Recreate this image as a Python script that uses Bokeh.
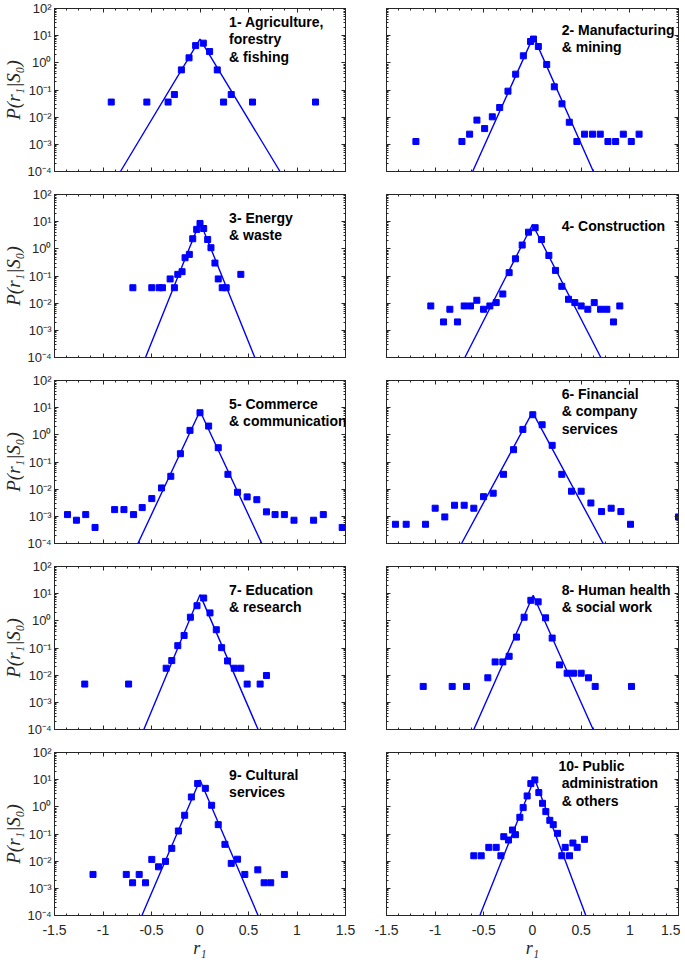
import numpy as np
from bokeh.plotting import figure
from bokeh.models import Range1d, FixedTicker, CustomJSTickFormatter, LinearAxis, LogAxis, Label
from bokeh.layouts import column, row
from bokeh.embed import file_html
from bokeh.resources import INLINE

# ---------------- data ----------------
x1 = [-0.915, -0.548, -0.329, -0.264, -0.192, -0.113, -0.045, 0.034, 0.099, 0.178, 0.243, 0.322, 0.541, 1.191]
y1 = [0.036, 0.036, 0.036, 0.068, 0.55, 1.53, 4.3, 5.3, 2.6, 0.55, 0.036, 0.068, 0.036, 0.036]
fit_x1 = [-0.82, 0.0, 0.825]
fit_y1 = [1e-4, 7.4, 1e-4]

x2 = [-1.198, -0.725, -0.646, -0.571, -0.492, -0.413, -0.337, -0.252, -0.173, -0.094, -0.02, 0.01, 0.06,
      0.146, 0.224, 0.303, 0.378, 0.456, 0.535, 0.617, 0.696, 0.775, 0.854, 0.933, 1.015, 1.095]
y2 = [1.27e-3, 1.27e-3, 2.37e-3, 7.8e-3, 3.8e-3, 0.0103, 0.0227, 0.0906, 0.383, 1.81, 6.1, 7.5, 4.0,
      0.87, 0.131, 0.031, 6.5e-3, 1.27e-3, 2.37e-3, 2.37e-3, 2.37e-3, 1.27e-3, 1.27e-3, 2.37e-3, 1.27e-3, 2.37e-3]
fit_x2 = [-0.615, 0.01, 0.625]
fit_y2 = [1e-4, 9.4, 1e-4]

x3 = [-0.692, -0.497, -0.421, -0.387, -0.308, -0.264, -0.229, -0.185, -0.154, -0.110, -0.075, -0.034, 0.0,
      0.038, 0.079, 0.113, 0.154, 0.188, 0.229, 0.27, 0.421]
y3 = [0.037, 0.037, 0.037, 0.037, 0.078, 0.037, 0.115, 0.144, 0.47, 0.625, 2.35, 5.2, 8.6,
      5.6, 2.2, 1.1, 0.30, 0.078, 0.037, 0.037, 0.115]
fit_x3 = [-0.562, 0.0, 0.565]
fit_y3 = [1e-4, 10.0, 1e-4]

x4 = [-1.045, -0.914, -0.849, -0.771, -0.702, -0.637, -0.572, -0.503, -0.438, -0.373, -0.305, -0.240, -0.175,
      -0.106, -0.041, 0.027, 0.092, 0.168, 0.236, 0.301, 0.37, 0.435, 0.5, 0.568, 0.634, 0.699, 0.764, 0.832, 0.897]
y4 = [7.9e-3, 2.04e-3, 5.97e-3, 2.04e-3, 7.9e-3, 7.9e-3, 0.0128, 5.97e-3, 7.9e-3, 0.0105, 0.0218, 0.133, 0.43,
      1.38, 4.1, 6.0, 2.2, 0.57, 0.161, 0.0417, 0.0139, 0.0105, 7.9e-3, 5.97e-3, 0.0105, 5.97e-3, 5.97e-3, 2.04e-3, 7.9e-3]
fit_x4 = [-0.695, 0.0, 0.702]
fit_y4 = [1e-4, 7.9, 1e-4]

x5 = [-1.366, -1.274, -1.178, -1.082, -0.880, -0.784, -0.685, -0.596, -0.497, -0.397, -0.301, -0.202, -0.103,
      0.0, 0.089, 0.188, 0.288, 0.387, 0.486, 0.586, 0.685, 0.774, 0.870, 0.969, 1.171, 1.271, 1.466]
y5 = [1.16e-3, 7.2e-4, 1.16e-3, 3.9e-4, 1.77e-3, 1.77e-3, 1.16e-3, 2.1e-3, 4.5e-3, 0.0111, 0.0298, 0.202, 1.46,
      6.5, 2.1, 0.336, 0.0352, 7.7e-3, 5.2e-3, 4.1e-3, 1.46e-3, 1.16e-3, 1.16e-3, 7.2e-4, 7.2e-4, 1.16e-3, 3.9e-4]
fit_x5 = [-0.640, 0.0, 0.637]
fit_y5 = [1e-4, 7.5, 1e-4]

x6 = [-1.408, -1.298, -1.099, -1.0, -0.901, -0.801, -0.702, -0.603, -0.503, -0.404, -0.298, -0.195, -0.099,
      0.003, 0.099, 0.202, 0.301, 0.401, 0.5, 0.6, 0.709, 0.808, 0.908, 1.007, 1.5]
y6 = [5.1e-4, 5.1e-4, 5.1e-4, 1.99e-3, 9.5e-4, 2.56e-3, 2.56e-3, 1.99e-3, 5.3e-3, 7.1e-3, 0.0352, 0.284, 1.58,
      5.5, 2.35, 0.41, 0.0352, 8.4e-3, 8.4e-3, 3.1e-3, 1.5e-3, 1.99e-3, 1.5e-3, 5.1e-4, 9.5e-4]
fit_x6 = [-0.729, 0.0, 0.726]
fit_y6 = [1e-4, 6.9, 1e-4]

x7 = [-1.188, -0.736, -0.349, -0.291, -0.229, -0.164, -0.099, -0.031, 0.038, 0.103, 0.168, 0.223, 0.284,
      0.353, 0.421, 0.486, 0.62, 0.685]
y7 = [4.7e-3, 4.7e-3, 0.018, 0.0344, 0.122, 0.29, 1.36, 3.6, 6.9, 1.96, 0.47, 0.103, 0.0334,
      0.018, 0.018, 4.7e-3, 4.7e-3, 9.7e-3]
fit_x7 = [-0.579, 0.0, 0.599]
fit_y7 = [1e-4, 9.2, 1e-4]

x8 = [-1.123, -0.825, -0.678, -0.459, -0.384, -0.305, -0.24, -0.165, -0.086, -0.017, 0.058, 0.134, 0.202,
      0.277, 0.356, 0.421, 0.5, 0.575, 0.644, 1.017]
y8 = [3.85e-3, 3.85e-3, 3.85e-3, 8.0e-3, 0.0308, 0.0308, 0.0495, 0.252, 1.36, 5.7, 5.0, 1.29, 0.232,
      0.0239, 0.0118, 0.0118, 0.0118, 8.0e-3, 3.85e-3, 3.85e-3]
fit_x8 = [-0.603, 0.007, 0.623]
fit_y8 = [1e-4, 8.7, 1e-4]

x9 = [-1.103, -0.760, -0.695, -0.627, -0.562, -0.497, -0.428, -0.356, -0.291, -0.223, -0.158, -0.089, -0.024,
      0.055, 0.120, 0.188, 0.257, 0.322, 0.387, 0.462, 0.596, 0.661, 0.729, 0.870]
y9 = [3.25e-3, 3.25e-3, 1.6e-3, 3.25e-3, 1.6e-3, 0.0116, 6.2e-3, 9.8e-3, 0.0296, 0.129, 0.49, 2.3, 7.2,
      4.8, 1.14, 0.221, 0.0416, 8.3e-3, 0.0118, 3.25e-3, 4.8e-3, 1.6e-3, 1.6e-3, 3.25e-3]
fit_x9 = [-0.599, 0.0, 0.599]
fit_y9 = [1e-4, 9.8, 1e-4]

x10 = [-0.603, -0.527, -0.449, -0.373, -0.325, -0.295, -0.247, -0.206, -0.175, -0.130, -0.096, -0.055, -0.017,
       0.024, 0.065, 0.103, 0.137, 0.178, 0.213, 0.257, 0.301, 0.336, 0.380, 0.415, 0.459, 0.534]
y10 = [0.0158, 0.0158, 0.0322, 0.0322, 0.0158, 0.0798, 0.060, 0.140, 0.0944, 0.412, 0.936, 2.52, 7.2,
       9.8, 3.35, 1.35, 0.667, 0.319, 0.221, 0.106, 0.0158, 0.0322, 0.0158, 0.0466, 0.0322, 0.0636]
fit_x10 = [-0.541, 0.02, 0.548]
fit_y10 = [1e-4, 11.0, 1e-4]

titles = [
    ["1- Agriculture,", "forestry", "& fishing"],
    ["2- Manufacturing", "& mining"],
    ["3- Energy", "& waste"],
    ["4- Construction"],
    ["5- Commerce", "& communication"],
    ["6- Financial", "& company", "services"],
    ["7- Education", "& research"],
    ["8- Human health", "& social work"],
    ["9- Cultural", "services"],
    ["10- Public", "administration", "& others"],
]

x_ticks = [-1.5, -1.0, -0.5, 0.0, 0.5, 1.0, 1.5]
y_ticks = [1e-4, 1e-3, 1e-2, 1e-1, 1e0, 1e1, 1e2]
y_label = "P(r\u2081|S\u2080)"
x_label = "r\u2081"

# ---------------- layout / style ----------------
series = [(x1, y1, fit_x1, fit_y1), (x2, y2, fit_x2, fit_y2), (x3, y3, fit_x3, fit_y3),
          (x4, y4, fit_x4, fit_y4), (x5, y5, fit_x5, fit_y5), (x6, y6, fit_x6, fit_y6),
          (x7, y7, fit_x7, fit_y7), (x8, y8, fit_x8, fit_y8), (x9, y9, fit_x9, fit_y9),
          (x10, y10, fit_x10, fit_y10)]
title_drop = [8, 16, 18, 26, 18, 8, 18, 18, 17, 8]
title_x = [[0.30] * 3, [0.30] * 2, [0.30] * 2, [0.30], [0.30] * 2,
           [0.30] * 3, [0.30] * 2, [0.30] * 2, [0.30] * 2, [0.266, 0.30, 0.30]]

BLUE = "#0000ff"
AX = "#262626"
SANS = "Liberation Sans"
SERIF = "Liberation Serif"
FRAME_H = 163
DEC_PX = FRAME_H / 6.0
LINE_DEC = 17.7 / DEC_PX

x_minor = [-1.5 + 0.125 * k for k in range(25)]
y_minor = [m * 10.0 ** e for e in range(-4, 2) for m in range(2, 10)]

SUP_CODE = """
const e = Math.round(Math.log10(tick));
const m = {'-':'\u207b','0':'\u2070','1':'\u00b9','2':'\u00b2','3':'\u00b3','4':'\u2074'};
return '10' + String(e).split('').map(c => m[c]).join('');
"""


def style_axis(ax, ticks, minor, show_labels, fmt_code, size="13px", standoff=3):
    ax.ticker = FixedTicker(ticks=ticks, minor_ticks=minor)
    ax.formatter = CustomJSTickFormatter(code=fmt_code)
    ax.axis_line_color = AX
    ax.major_tick_line_color = AX
    ax.minor_tick_line_color = AX
    ax.major_tick_in = 4
    ax.major_tick_out = 0
    ax.minor_tick_in = 2
    ax.minor_tick_out = 0
    ax.major_label_text_font = SANS
    if show_labels:
        ax.major_label_text_color = AX
        ax.major_label_text_font_size = size
        ax.major_label_standoff = standoff
    else:
        ax.major_label_text_color = None
        ax.major_label_text_alpha = 0
        ax.major_label_text_font_size = "1px"
        ax.major_label_standoff = 0


def make_panel(i):
    r, c = divmod(i, 2)
    last = (r == 4)
    xs, ys, fx, fy = series[i]
    p = figure(frame_width=291 if c == 0 else 292, frame_height=FRAME_H,
               x_range=Range1d(-1.5, 1.5), y_range=Range1d(1e-4, 1e2), y_axis_type="log",
               output_backend="svg", toolbar_location=None,
               min_border_left=48 if c == 0 else 26, min_border_right=15 if c == 0 else 2,
               min_border_top=8, min_border_bottom=43 if last else 15,
               background_fill_color="white", border_fill_color="white")
    p.grid.visible = False
    p.outline_line_color = AX
    p.outline_line_width = 1

    bottom = p.below[0]
    left = p.left[0]
    style_axis(bottom, x_ticks, x_minor, last, "return tick.toString();", "14px", 9)
    style_axis(left, y_ticks, y_minor, c == 0, SUP_CODE, "13px", 3)
    top = LinearAxis()
    style_axis(top, x_ticks, x_minor, False, "return '';")
    p.add_layout(top, "above")
    right = LogAxis()
    style_axis(right, y_ticks, y_minor, False, "return '';")
    p.add_layout(right, "right")

    if c == 0:
        left.axis_label = y_label
        left.axis_label_text_font = SERIF
        left.axis_label_text_font_style = "italic"
        left.axis_label_text_font_size = "19px"
        left.axis_label_text_color = AX
        left.axis_label_standoff = 0
    if last:
        bottom.axis_label = x_label
        bottom.axis_label_text_font = SERIF
        bottom.axis_label_text_font_style = "italic"
        bottom.axis_label_text_font_size = "18px"
        bottom.axis_label_text_color = AX
        bottom.axis_label_standoff = 0

    p.line(fx, fy, line_color=BLUE, line_width=1.4)
    p.scatter(xs, ys, marker="square", size=6, fill_color=BLUE, line_color=BLUE)

    ly0 = 2.0 - (title_drop[i] - 3) / DEC_PX
    for k, txt in enumerate(titles[i]):
        p.add_layout(Label(x=title_x[i][k], y=10 ** (ly0 - k * LINE_DEC), text=txt,
                           text_font=SANS, text_font_style="bold", text_font_size="14px",
                           text_color="black", text_baseline="top", text_align="left"))
    return p


panels = [make_panel(i) for i in range(10)]
layout = column(*[row(panels[2 * r], panels[2 * r + 1]) for r in range(5)])

open("out.html", "w").write(file_html(layout, INLINE))
